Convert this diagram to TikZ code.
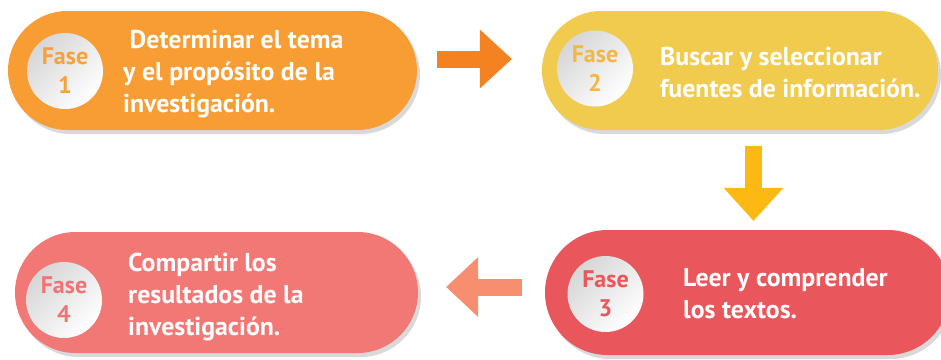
\documentclass[tikz,border=0pt]{standalone}
\usepackage{fontspec}
\setmainfont{PT Sans}
\usetikzlibrary{shapes.misc,shadows,arrows.meta}

\definecolor{boxa}{RGB}{247,157,52}
\definecolor{boxb}{RGB}{240,203,78}
\definecolor{boxc}{RGB}{233,86,91}
\definecolor{boxd}{RGB}{242,120,118}
\definecolor{fasea}{RGB}{246,162,59}
\definecolor{faseb}{RGB}{243,184,67}
\definecolor{fasec}{RGB}{233,86,91}
\definecolor{fased}{RGB}{240,116,117}
\definecolor{arra}{RGB}{245,130,32}
\definecolor{arrb}{RGB}{253,185,19}
\definecolor{arrc}{RGB}{246,142,111}

\begin{document}
\begin{tikzpicture}
  [x=1pt,y=-1pt,
   box/.style={rounded rectangle, inner sep=0pt, draw=none,
     drop shadow={shadow xshift=3pt, shadow yshift=-4pt, opacity=0.3}},
   disc/.style={circle, minimum size=76pt, inner sep=0pt, top color=black!16, bottom color=white,
     shading angle=45, align=center, font=\bfseries\fontsize{24}{29}\selectfont},
   txt/.style={anchor=base west, align=left, inner sep=0pt, text=white,
     font=\bfseries\fontsize{25.8}{32}\selectfont}]

 \useasboundingbox (0,0) rectangle (941,359);

 % the four phases
 \node[box, fill=boxa, minimum width=409pt, minimum height=119pt] (f1) at (212.5,70.5) {};
 \node[box, fill=boxb, minimum width=396pt, minimum height=119pt] (f2) at (740,70.5) {};
 \node[box, fill=boxc, minimum width=405pt, minimum height=125pt] (f3) at (747.5,292.5) {};
 \node[box, fill=boxd, minimum width=403pt, minimum height=121pt] (f4) at (216.5,292.5) {};

 \node[disc, text=fasea] (d1) at (65,71) {Fase\\1};
 \node[disc, text=faseb] (d2) at (595,68.5) {Fase\\2};
 \node[disc, text=fasec] (d3) at (605.5,294) {Fase\\3};
 \node[disc, text=fased] (d4) at (64,300) {Fase\\4};

 % texts, placed at the baseline of their last line
 \node[txt] (t1) at (123,112) {~Determinar el tema\\y el propósito de la\\investigación.};
 \node[txt] (t2) at (660,97) {Buscar y seleccionar\\fuentes de información.};
 \node[txt] (t3) at (683,318) {Leer y comprender\\los textos.};
 \node[txt] (t4) at (128,335) {Compartir los\\resultados de la\\investigación.};

 % arrows between phases
 \draw[draw=arra, line width=17pt, -{Triangle[length=32pt,width=59pt,line width=0pt]}]
   ([xshift=20pt,yshift=11.5pt]f1.east) -- ([xshift=-30pt,yshift=11.5pt]f2.west);
 \draw[draw=arrb, line width=17pt, -{Triangle[length=33pt,width=60pt,line width=0pt]}]
   ([xshift=13.5pt,yshift=-16pt]f2.south) -- ([xshift=6pt,yshift=9pt]f3.north);
 \draw[draw=arrc, line width=17pt, -{Triangle[length=32pt,width=60pt,line width=0pt]}]
   ([xshift=-23pt,yshift=5.5pt]f3.west) -- ([xshift=28pt,yshift=5.5pt]f4.east);

\end{tikzpicture}
\end{document}
